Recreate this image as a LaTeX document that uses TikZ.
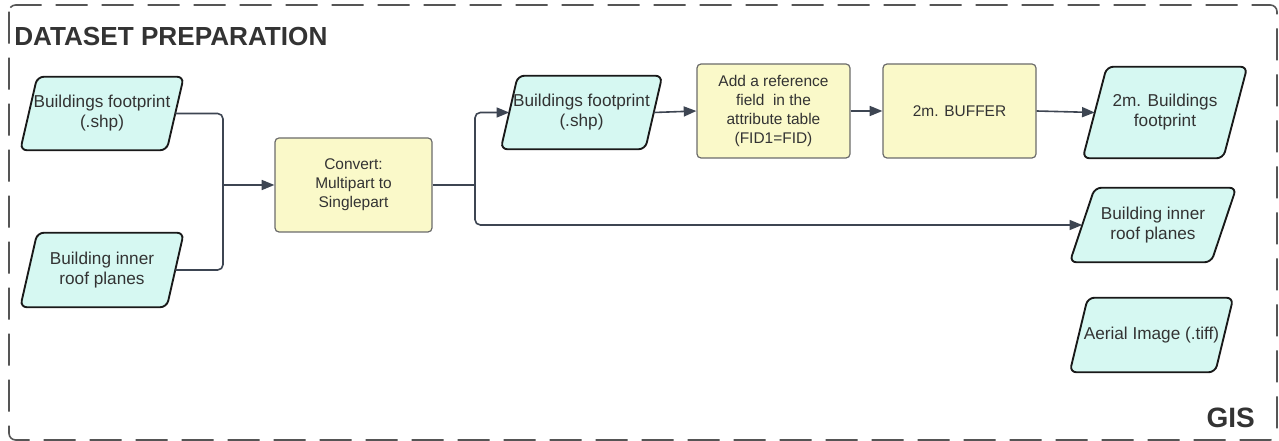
\documentclass[tikz,border=0pt]{standalone}
\usepackage{fontspec}
\setmainfont{Liberation Sans}
\usetikzlibrary{arrows.meta,calc,backgrounds}

\definecolor{paraFill}{HTML}{D6F8F2}
\definecolor{boxFill}{HTML}{FAF9C9}
\definecolor{boxLine}{HTML}{6B6B6B}
\definecolor{linkCol}{HTML}{3D4552}
\definecolor{inkCol}{HTML}{333333}
\definecolor{frameCol}{HTML}{555555}

\tikzset{
  datanode/.style={draw=none, inner sep=0pt, align=center, text=inkCol,
    font=\fontsize{12.9}{15}\selectfont},
  procbox/.style={draw=boxLine, fill=boxFill, line width=0.9pt, rounded corners=3pt,
    inner sep=0pt, align=center, text=inkCol,
    font=\fontsize{11.6}{14.2}\selectfont},
  paraline/.style={draw=black!90, fill=paraFill, line width=1.4pt, rounded corners=5pt},
  link/.style={draw=linkCol, line width=1.2pt, rounded corners=4pt,
    -{Triangle[length=9.5pt,width=7.5pt]}},
  linkplain/.style={draw=linkCol, line width=1.2pt, rounded corners=4pt},
  titletext/.style={font=\bfseries\fontsize{19.6}{22}\selectfont, text=inkCol, inner sep=0pt}
}

% slanted outline behind a data node: #1 = node name, #2 = half skew
\newcommand{\slantbox}[2]{%
  \path[paraline]
    ($(#1.north west)+(#2,0)$) -- ($(#1.north east)+(#2,0)$) --
    ($(#1.south east)-(#2,0)$) -- ($(#1.south west)-(#2,0)$) -- cycle;}

\begin{document}
\begin{tikzpicture}[x=0.75pt,y=-0.75pt]
\useasboundingbox (0,0) rectangle (1279,441);

% group frame
\draw[frameCol, line width=1.2pt, dash pattern=on 24pt off 10.5pt, rounded corners=5pt]
  (9,5) rectangle (1277,440);
\node[titletext, anchor=base west] (title) at (14,46) {DATASET PREPARATION};
\node[titletext, font=\bfseries\fontsize{21}{24}\selectfont, anchor=base east] (gis) at (1255,428) {GIS};

% data nodes
\node[datanode, minimum width=109.5pt, minimum height=54.75pt] (p1) at (102,113.5) {Buildings footprint\\(.shp)};
\node[datanode, minimum width=109.5pt, minimum height=55.5pt] (p2) at (102,270) {Building inner\\roof planes};
\node[datanode, minimum width=108pt, minimum height=54.75pt] (p3) at (581.5,112.5) {Buildings footprint\\(.shp)};
\node[datanode, minimum width=105pt, minimum height=68.25pt] (p5) at (1165,112.5) {2m. Buildings\\footprint};
\node[datanode, minimum width=105.75pt, minimum height=55.5pt] (p4) at (1153,225) {Building inner\\roof planes};
\node[datanode, minimum width=108.75pt, minimum height=55.5pt] (p6) at (1151.5,335) {Aerial Image (.tiff)};

% slanted outlines behind the data nodes
\begin{pgfonlayer}{background}
\slantbox{p1}{8.5}
\slantbox{p2}{8.5}
\slantbox{p3}{8.5}
\slantbox{p5}{12}
\slantbox{p4}{12.5}
\slantbox{p6}{9}
\end{pgfonlayer}

% process boxes
\node[procbox, minimum width=117.75pt, minimum height=70.5pt] (conv) at (353.5,185) {Convert:\\Multipart to\\Singlepart};
\node[procbox, minimum width=114.75pt, minimum height=70.5pt] (add) at (773.5,111) {Add a reference\\field\ \ in the\\attribute table\\(FID1=FID)};
\node[procbox, minimum width=114.75pt, minimum height=70.5pt] (buf) at (959.5,111) {2m. BUFFER};

% junction points
\coordinate (j1) at (223,185);
\coordinate (j2) at (475,185);

% connectors
\draw[linkplain] (p1.east) -| (j1);
\draw[linkplain] (p2.east) -| (j1);
\draw[link] (j1) -- (conv.west);
\draw[linkplain] (conv.east) -- (j2);
\draw[link] (j2) |- (p3.west);
\draw[link] (j2) |- (p4.west);
\draw[link] (p3.east) -- (add.west);
\draw[link] (add.east) -- (buf.west);
\draw[link] (buf.east) -- (p5.west);
\end{tikzpicture}
\end{document}
